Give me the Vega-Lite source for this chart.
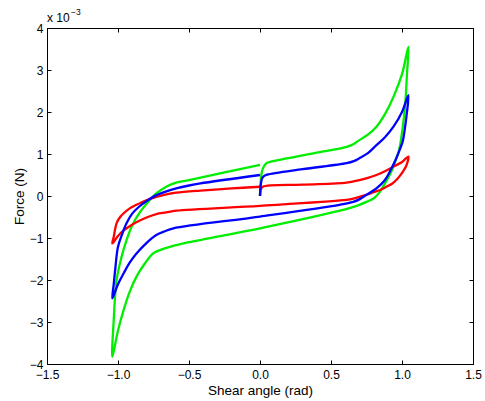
{
  "$schema": "https://vega.github.io/schema/vega-lite/v6.json",
  "width": 426,
  "height": 336,
  "autosize": {"type": "none"},
  "padding": {"left": 47, "top": 28, "right": 12, "bottom": 37},
  "background": "white",
  "config": {
    "view": {"stroke": "black", "strokeWidth": 1},
    "font": "Liberation Sans",
    "axis": {
      "grid": false,
      "domainColor": "black",
      "tickColor": "black",
      "labelColor": "black",
      "titleColor": "black",
      "tickSize": -4,
      "labelFont": "Liberation Sans",
      "titleFont": "Liberation Sans",
      "labelFontSize": 12,
      "titleFontSize": 13.5,
      "titleFontWeight": "normal"
    }
  },
  "datasets": {
    "curves": [
      {"series":"green","step":1,"angle":0,"force":0},
      {"series":"green","step":2,"angle":0.005,"force":0.35},
      {"series":"green","step":3,"angle":0.015,"force":0.6},
      {"series":"green","step":4,"angle":0.03,"force":0.72},
      {"series":"green","step":5,"angle":0.05,"force":0.79},
      {"series":"green","step":6,"angle":0.2,"force":0.9},
      {"series":"green","step":7,"angle":0.4,"force":1.03},
      {"series":"green","step":8,"angle":0.61,"force":1.17},
      {"series":"green","step":9,"angle":0.66,"force":1.24},
      {"series":"green","step":10,"angle":0.7,"force":1.33},
      {"series":"green","step":11,"angle":0.76,"force":1.46},
      {"series":"green","step":12,"angle":0.82,"force":1.65},
      {"series":"green","step":13,"angle":0.88,"force":1.95},
      {"series":"green","step":14,"angle":0.94,"force":2.36},
      {"series":"green","step":15,"angle":1.0,"force":2.9},
      {"series":"green","step":16,"angle":1.045,"force":3.55},
      {"series":"green","step":17,"angle":1.035,"force":2.9},
      {"series":"green","step":18,"angle":1.025,"force":2.3},
      {"series":"green","step":19,"angle":1.01,"force":1.77},
      {"series":"green","step":20,"angle":0.98,"force":1.1},
      {"series":"green","step":21,"angle":0.955,"force":0.85},
      {"series":"green","step":22,"angle":0.93,"force":0.62},
      {"series":"green","step":23,"angle":0.88,"force":0.3},
      {"series":"green","step":24,"angle":0.84,"force":0.08},
      {"series":"green","step":25,"angle":0.8,"force":-0.06},
      {"series":"green","step":26,"angle":0.75,"force":-0.14},
      {"series":"green","step":27,"angle":0.7,"force":-0.21},
      {"series":"green","step":28,"angle":0.63,"force":-0.29},
      {"series":"green","step":29,"angle":0.563,"force":-0.35},
      {"series":"green","step":30,"angle":0,"force":-0.77},
      {"series":"green","step":31,"angle":-0.5,"force":-1.1},
      {"series":"green","step":32,"angle":-0.634,"force":-1.21},
      {"series":"green","step":33,"angle":-0.69,"force":-1.27},
      {"series":"green","step":34,"angle":-0.75,"force":-1.36},
      {"series":"green","step":35,"angle":-0.81,"force":-1.6},
      {"series":"green","step":36,"angle":-0.87,"force":-1.92},
      {"series":"green","step":37,"angle":-0.92,"force":-2.3},
      {"series":"green","step":38,"angle":-0.96,"force":-2.71},
      {"series":"green","step":39,"angle":-1.0,"force":-3.2},
      {"series":"green","step":40,"angle":-1.04,"force":-3.83},
      {"series":"green","step":41,"angle":-1.03,"force":-2.95},
      {"series":"green","step":42,"angle":-1.01,"force":-2.0},
      {"series":"green","step":43,"angle":-0.975,"force":-1.45},
      {"series":"green","step":44,"angle":-0.94,"force":-1.05},
      {"series":"green","step":45,"angle":-0.9,"force":-0.7},
      {"series":"green","step":46,"angle":-0.85,"force":-0.41},
      {"series":"green","step":47,"angle":-0.79,"force":-0.15},
      {"series":"green","step":48,"angle":-0.73,"force":0.06},
      {"series":"green","step":49,"angle":-0.66,"force":0.22},
      {"series":"green","step":50,"angle":-0.59,"force":0.32},
      {"series":"green","step":51,"angle":-0.5,"force":0.38},
      {"series":"green","step":52,"angle":-0.25,"force":0.56},
      {"series":"green","step":53,"angle":0,"force":0.74},

      {"series":"red","step":1,"angle":0,"force":0},
      {"series":"red","step":2,"angle":0.005,"force":0.15},
      {"series":"red","step":3,"angle":0.02,"force":0.22},
      {"series":"red","step":4,"angle":0.3,"force":0.27},
      {"series":"red","step":5,"angle":0.61,"force":0.32},
      {"series":"red","step":6,"angle":0.7,"force":0.38},
      {"series":"red","step":7,"angle":0.76,"force":0.43},
      {"series":"red","step":8,"angle":0.82,"force":0.5},
      {"series":"red","step":9,"angle":0.88,"force":0.59},
      {"series":"red","step":10,"angle":0.94,"force":0.7},
      {"series":"red","step":11,"angle":1.0,"force":0.81},
      {"series":"red","step":12,"angle":1.045,"force":0.94},
      {"series":"red","step":13,"angle":1.03,"force":0.72},
      {"series":"red","step":14,"angle":1.01,"force":0.6},
      {"series":"red","step":15,"angle":0.985,"force":0.48},
      {"series":"red","step":16,"angle":0.96,"force":0.38},
      {"series":"red","step":17,"angle":0.93,"force":0.29},
      {"series":"red","step":18,"angle":0.89,"force":0.22},
      {"series":"red","step":19,"angle":0.85,"force":0.15},
      {"series":"red","step":20,"angle":0.8,"force":0.09},
      {"series":"red","step":21,"angle":0.75,"force":0.03},
      {"series":"red","step":22,"angle":0.7,"force":-0.02},
      {"series":"red","step":23,"angle":0.65,"force":-0.07},
      {"series":"red","step":24,"angle":0.59,"force":-0.1},
      {"series":"red","step":25,"angle":0,"force":-0.235},
      {"series":"red","step":26,"angle":-0.59,"force":-0.35},
      {"series":"red","step":27,"angle":-0.66,"force":-0.39},
      {"series":"red","step":28,"angle":-0.73,"force":-0.43},
      {"series":"red","step":29,"angle":-0.79,"force":-0.5},
      {"series":"red","step":30,"angle":-0.85,"force":-0.59},
      {"series":"red","step":31,"angle":-0.91,"force":-0.7},
      {"series":"red","step":32,"angle":-0.96,"force":-0.82},
      {"series":"red","step":33,"angle":-1.0,"force":-0.95},
      {"series":"red","step":34,"angle":-1.04,"force":-1.13},
      {"series":"red","step":35,"angle":-1.03,"force":-0.97},
      {"series":"red","step":36,"angle":-1.01,"force":-0.65},
      {"series":"red","step":37,"angle":-0.985,"force":-0.5},
      {"series":"red","step":38,"angle":-0.96,"force":-0.41},
      {"series":"red","step":39,"angle":-0.92,"force":-0.3},
      {"series":"red","step":40,"angle":-0.87,"force":-0.21},
      {"series":"red","step":41,"angle":-0.8,"force":-0.1},
      {"series":"red","step":42,"angle":-0.73,"force":-0.02},
      {"series":"red","step":43,"angle":-0.66,"force":0.04},
      {"series":"red","step":44,"angle":-0.59,"force":0.08},
      {"series":"red","step":45,"angle":-0.42,"force":0.13},
      {"series":"red","step":46,"angle":-0.2,"force":0.18},
      {"series":"red","step":47,"angle":0,"force":0.22},

      {"series":"blue","step":1,"angle":0,"force":0},
      {"series":"blue","step":2,"angle":0.005,"force":0.25},
      {"series":"blue","step":3,"angle":0.015,"force":0.42},
      {"series":"blue","step":4,"angle":0.03,"force":0.48},
      {"series":"blue","step":5,"angle":0.05,"force":0.51},
      {"series":"blue","step":6,"angle":0.3,"force":0.64},
      {"series":"blue","step":7,"angle":0.61,"force":0.78},
      {"series":"blue","step":8,"angle":0.66,"force":0.83},
      {"series":"blue","step":9,"angle":0.7,"force":0.9},
      {"series":"blue","step":10,"angle":0.76,"force":1.02},
      {"series":"blue","step":11,"angle":0.82,"force":1.21},
      {"series":"blue","step":12,"angle":0.88,"force":1.4},
      {"series":"blue","step":13,"angle":0.94,"force":1.65},
      {"series":"blue","step":14,"angle":1.0,"force":2.0},
      {"series":"blue","step":15,"angle":1.045,"force":2.4},
      {"series":"blue","step":16,"angle":1.035,"force":2.0},
      {"series":"blue","step":17,"angle":1.02,"force":1.6},
      {"series":"blue","step":18,"angle":1.005,"force":1.3},
      {"series":"blue","step":19,"angle":0.986,"force":1.12},
      {"series":"blue","step":20,"angle":0.96,"force":0.9},
      {"series":"blue","step":21,"angle":0.92,"force":0.62},
      {"series":"blue","step":22,"angle":0.88,"force":0.38},
      {"series":"blue","step":23,"angle":0.82,"force":0.18},
      {"series":"blue","step":24,"angle":0.75,"force":0.03},
      {"series":"blue","step":25,"angle":0.7,"force":-0.08},
      {"series":"blue","step":26,"angle":0.657,"force":-0.14},
      {"series":"blue","step":27,"angle":0.56,"force":-0.21},
      {"series":"blue","step":28,"angle":0,"force":-0.49},
      {"series":"blue","step":29,"angle":-0.61,"force":-0.77},
      {"series":"blue","step":30,"angle":-0.67,"force":-0.84},
      {"series":"blue","step":31,"angle":-0.73,"force":-0.93},
      {"series":"blue","step":32,"angle":-0.8,"force":-1.12},
      {"series":"blue","step":33,"angle":-0.87,"force":-1.37},
      {"series":"blue","step":34,"angle":-0.92,"force":-1.6},
      {"series":"blue","step":35,"angle":-0.96,"force":-1.84},
      {"series":"blue","step":36,"angle":-1.0,"force":-2.1},
      {"series":"blue","step":37,"angle":-1.04,"force":-2.44},
      {"series":"blue","step":38,"angle":-1.03,"force":-2.1},
      {"series":"blue","step":39,"angle":-1.02,"force":-1.76},
      {"series":"blue","step":40,"angle":-1.0,"force":-1.21},
      {"series":"blue","step":41,"angle":-0.97,"force":-0.9},
      {"series":"blue","step":42,"angle":-0.94,"force":-0.65},
      {"series":"blue","step":43,"angle":-0.9,"force":-0.42},
      {"series":"blue","step":44,"angle":-0.85,"force":-0.25},
      {"series":"blue","step":45,"angle":-0.79,"force":-0.1},
      {"series":"blue","step":46,"angle":-0.73,"force":0.02},
      {"series":"blue","step":47,"angle":-0.66,"force":0.11},
      {"series":"blue","step":48,"angle":-0.59,"force":0.18},
      {"series":"blue","step":49,"angle":-0.5,"force":0.25},
      {"series":"blue","step":50,"angle":-0.42,"force":0.3},
      {"series":"blue","step":51,"angle":0,"force":0.5}
    ],
    "notes": [
      {"angle": -1.5, "force": 4, "label": "x 10", "kind": "base"},
      {"angle": -1.5, "force": 4, "label": "−3", "kind": "exp"}
    ]
  },
  "layer": [
    {
      "data": {"name": "curves"},
      "mark": {"type": "line", "strokeWidth": 2.3, "clip": true, "interpolate": "catmull-rom"},
      "encoding": {
        "x": {
          "field": "angle", "type": "quantitative",
          "scale": {"domain": [-1.5, 1.5], "nice": false, "zero": false},
          "axis": {"orient": "bottom", "values": [-1.5, -1, -0.5, 0, 0.5, 1, 1.5], "title": "Shear angle (rad)", "labelPadding": 9, "titlePadding": 3, "labelFlush": false, "labelOverlap": false}
        },
        "y": {
          "field": "force", "type": "quantitative",
          "scale": {"domain": [-4, 4], "nice": false, "zero": false},
          "axis": {"orient": "left", "values": [-4, -3, -2, -1, 0, 1, 2, 3, 4], "title": "Force (N)", "labelPadding": 8, "titlePadding": 3, "labelFlush": false, "labelOverlap": false}
        },
        "color": {
          "field": "series", "type": "nominal",
          "scale": {"domain": ["green", "red", "blue"], "range": ["#00ee00", "#ff0000", "#0000ff"]},
          "legend": null
        },
        "order": {"field": "step", "type": "quantitative"}
      }
    },
    {
      "data": {"name": "curves"},
      "mark": {"type": "point", "opacity": 0},
      "encoding": {
        "x": {
          "field": "angle", "type": "quantitative",
          "axis": {"orient": "top", "values": [-1.5, -1, -0.5, 0, 0.5, 1, 1.5], "labels": false, "title": null}
        },
        "y": {
          "field": "force", "type": "quantitative",
          "axis": {"orient": "right", "values": [-4, -3, -2, -1, 0, 1, 2, 3, 4], "labels": false, "title": null}
        }
      }
    },
    {
      "data": {"name": "notes"},
      "transform": [{"filter": "datum.kind == 'base'"}],
      "mark": {"type": "text", "align": "left", "baseline": "alphabetic", "dx": 0, "dy": -6, "fontSize": 12, "font": "Liberation Sans", "color": "black"},
      "encoding": {
        "x": {"field": "angle", "type": "quantitative", "axis": null},
        "y": {"field": "force", "type": "quantitative", "axis": null},
        "text": {"field": "label"}
      }
    },
    {
      "data": {"name": "notes"},
      "transform": [{"filter": "datum.kind == 'exp'"}],
      "mark": {"type": "text", "align": "left", "baseline": "alphabetic", "dx": 24, "dy": -13, "fontSize": 8.5, "font": "Liberation Sans", "color": "black"},
      "encoding": {
        "x": {"field": "angle", "type": "quantitative", "axis": null},
        "y": {"field": "force", "type": "quantitative", "axis": null},
        "text": {"field": "label"}
      }
    }
  ],
  "resolve": {"axis": {"x": "independent", "y": "independent"}}
}
